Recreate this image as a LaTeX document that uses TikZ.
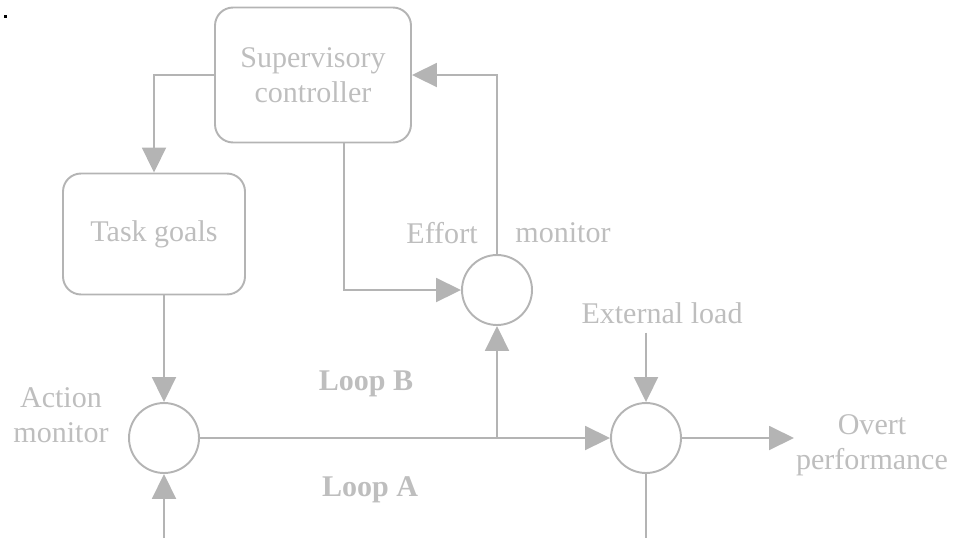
\documentclass[tikz,border=0pt]{standalone}
\usepackage{fontspec}
\setmainfont{Liberation Serif}
\usetikzlibrary{arrows.meta,calc}
\definecolor{linegray}{RGB}{180,180,180}
\definecolor{textgray}{RGB}{190,190,190}
\tikzset{
  block/.style={draw=linegray,line width=1.1pt,rounded corners=0.36cm,text=textgray,align=center},
  junction/.style={circle,draw=linegray,line width=1.1pt,minimum size=1.40cm,inner sep=0pt},
  tag/.style={text=textgray,align=center,inner sep=1pt},
  flow/.style={draw=linegray,line width=1.1pt,-{Triangle[length=0.5cm,width=0.48cm]}},
  plain/.style={draw=linegray,line width=1.1pt}
}

\begin{document}
\begin{tikzpicture}[x=0.02cm,y=-0.02cm,font=\fontsize{17.1}{19.9}\selectfont]
    \useasboundingbox (0,0) rectangle (960,538);

    % -- stray mark in the top left corner --
    \fill[black] (4,15) rectangle (7,18);

    % -- Boxes --
    \node[block,minimum width=3.92cm,minimum height=2.7cm] (sup) at (313,75) {Supervisory\\controller};
    \node[block,minimum width=3.64cm,minimum height=2.42cm] (task) at (154,234) {Task goals};

    % -- Comparators --
    \node[junction] (act) at (164,438) {};
    \node[junction] (eff) at (497,290) {};
    \node[junction] (sum) at (646,438) {};

    % -- Labels --
    \node[tag] (actlbl) at (61,415) {Action\\monitor};
    \node[tag] (efflbl) at (442,233) {Effort};
    \node[tag] (monlbl) at (563,233) {monitor};
    \node[tag] (ext) at (662,313) {External load};
    \node[tag] (perf) at (872,445) {Overt\\performance};
    \node[tag] (loopb) at (366,384) {\textbf{Loop B}};
    \node[tag] (loopa) at (370,490) {\textbf{Loop A}};

    % -- Free ends at the bottom edge --
    \coordinate (actin) at (164,538);
    \coordinate (sumout) at (646,538);

    % -- Connectors --
    \draw[flow] (sup.west) -| (task.north);
    \draw[flow] (task.south -| act.north) -- (act.north);
    \draw[flow] (actin) -- (act.south);
    \draw[flow] (act.east) -- (sum.west);
    \draw[flow] (act.east -| eff.south) -- (eff.south);
    \draw[flow] ([xshift=0.62cm]sup.south) |- (eff.west);
    \draw[flow] (eff.north) |- (sup.east);
    \draw[flow] ([yshift=-0.14cm]ext.south -| sum.north) -- (sum.north);
    \draw[flow] (sum.east) -- (sum.east -| perf.west);
    \draw[plain] (sum.south) -- (sumout);

\end{tikzpicture}
\end{document}
